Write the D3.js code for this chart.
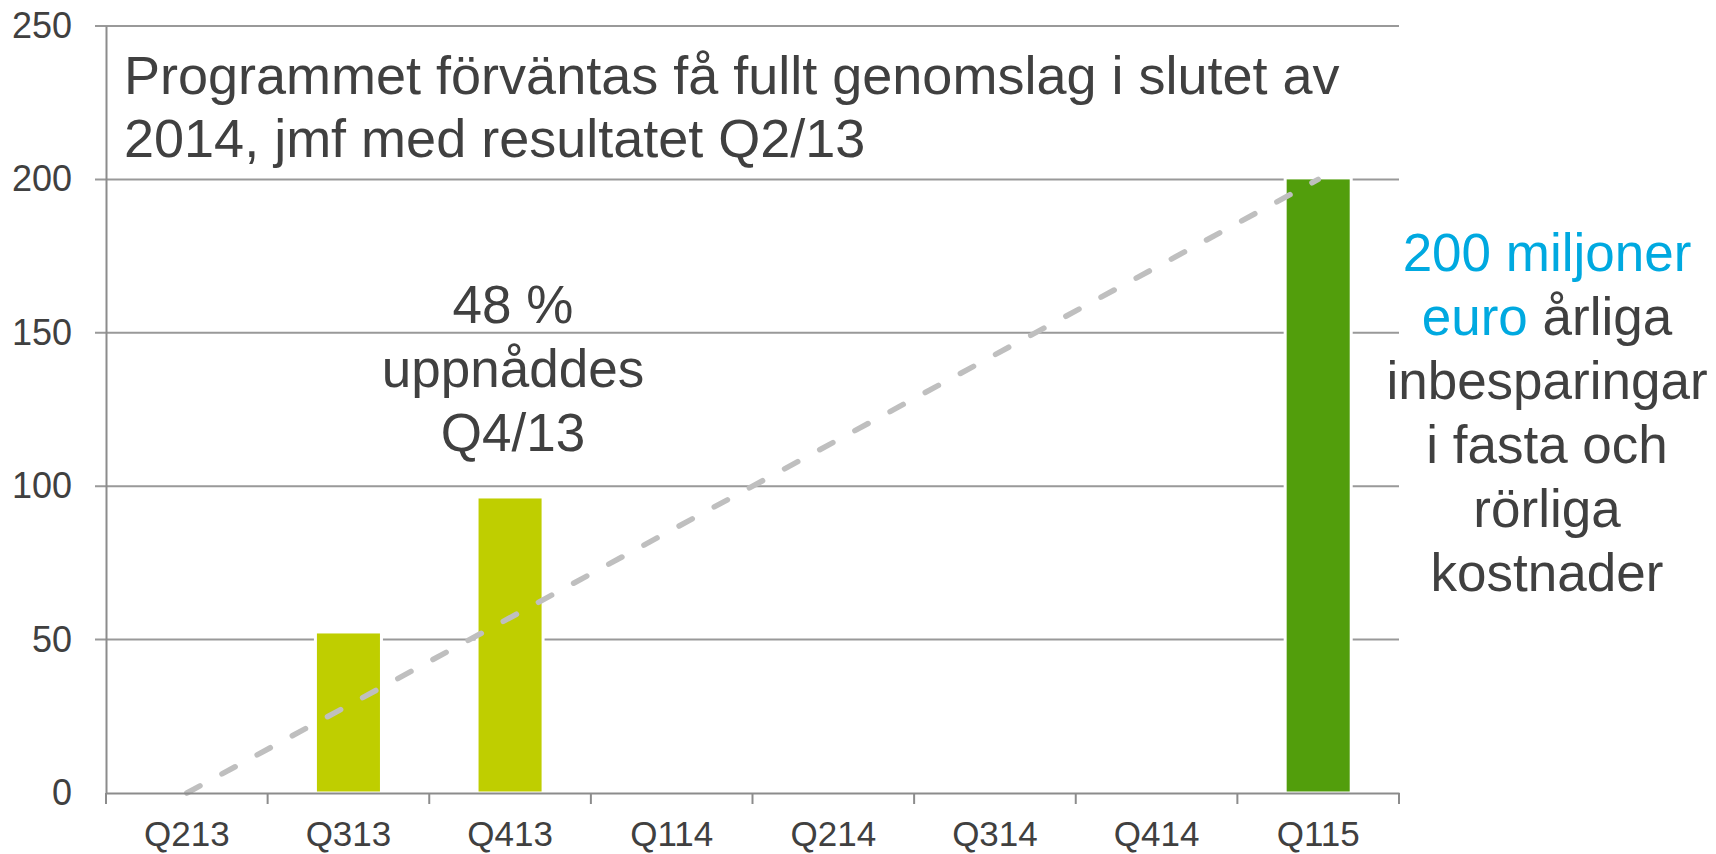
<!DOCTYPE html>
<html>
<head>
<meta charset="utf-8">
<script src="https://cdn.jsdelivr.net/npm/d3@7"></script>
<style>
  body { margin: 0; background: #fff; }
  svg text { font-family: "Liberation Sans", Arial, sans-serif; fill: #404040; }
</style>
</head>
<body>
<div id="chart"></div>
<script>
// Data
const quarters = ["Q213", "Q313", "Q413", "Q114", "Q214", "Q314", "Q414", "Q115"];
const savings = [null, 52, 96, null, null, null, null, 200];
const targetQuarter = "Q115";
const trendQuarters = ["Q213", "Q115"];
const trendValues = [0, 200];
const yTicks = [0, 50, 100, 150, 200, 250];

const titleLines = [
  "Programmet förväntas få fullt genomslag i slutet av",
  "2014, jmf med resultatet Q2/13"
];
const midNoteLines = ["48 %", "uppnåddes", "Q4/13"];
const rightNoteLines = ["inbesparingar", "i fasta och", "rörliga", "kostnader"];

// Dimensions
const width = 1716;
const height = 854;
const margin = { top: 26, right: 317, bottom: 61, left: 106 };

const svg = d3.select("#chart").append("svg")
  .attr("width", width)
  .attr("height", height);

// Scales
const x = d3.scaleBand()
  .domain(quarters)
  .range([margin.left, width - margin.right])
  .padding(0);

const y = d3.scaleLinear()
  .domain([0, 250])
  .range([height - margin.bottom, margin.top]);

const barWidth = x.bandwidth() * 0.39;
const axisColor = "#8c8c8c";

// Gridlines (they also serve as the left tick marks)
svg.append("g")
  .selectAll("line")
  .data(yTicks.filter(d => d > 0))
  .enter()
  .append("line")
    .attr("x1", margin.left - 11)
    .attr("x2", width - margin.right)
    .attr("y1", d => y(d))
    .attr("y2", d => y(d))
    .attr("stroke", "#999")
    .attr("stroke-width", 2);

// Bars (white outline cuts the gridlines around them)
const barData = quarters
  .map((q, i) => ({ quarter: q, value: savings[i] }))
  .filter(d => d.value != null);

svg.append("g")
  .selectAll("rect")
  .data(barData)
  .enter()
  .append("rect")
    .attr("x", d => x(d.quarter) + x.bandwidth() / 2 - barWidth / 2 - 1.5)
    .attr("y", d => y(d.value) - 1.5)
    .attr("width", barWidth + 3)
    .attr("height", d => y(0) - y(d.value) + 1.5)
    .attr("fill", d => d.quarter === targetQuarter ? "#529e0c" : "#bfce00")
    .attr("stroke", "#fff")
    .attr("stroke-width", 3);

// Trend line (dashed)
const trend = trendQuarters.map((q, i) => ({ quarter: q, value: trendValues[i] }));
const line = d3.line()
  .x(d => x(d.quarter) + x.bandwidth() / 2)
  .y(d => y(d.value));

svg.append("path")
  .datum(trend)
  .attr("fill", "none")
  .attr("stroke", "#bfbfbf")
  .attr("stroke-width", 5.5)
  .attr("stroke-linecap", "round")
  .attr("stroke-dasharray", "15,25")
  .attr("d", line);

// Y axis
const yAxis = svg.append("g")
  .attr("transform", `translate(${margin.left}, 0)`)
  .call(d3.axisLeft(y).tickValues(yTicks).tickSize(0).tickPadding(34));

yAxis.select(".domain")
  .attr("stroke", axisColor)
  .attr("stroke-width", 2);

yAxis.selectAll("text")
  .style("font-size", "36px")
  .style("fill", "#404040");

// X axis
const xAxis = svg.append("g")
  .attr("transform", `translate(0, ${height - margin.bottom})`)
  .call(d3.axisBottom(x).tickSize(0).tickSizeOuter(0));

xAxis.select(".domain")
  .attr("stroke", axisColor)
  .attr("stroke-width", 2);

xAxis.selectAll("text")
  .attr("y", 53)
  .attr("dy", 0)
  .style("font-size", "35px")
  .style("fill", "#404040");

// X tick marks at category boundaries
const boundaries = quarters.map(q => x(q)).concat([x.range()[1]]);
svg.append("g")
  .selectAll("line")
  .data(boundaries)
  .enter()
  .append("line")
    .attr("x1", d => d)
    .attr("x2", d => d)
    .attr("y1", y(0))
    .attr("y2", y(0) + 11)
    .attr("stroke", axisColor)
    .attr("stroke-width", 2);

// Title
svg.append("text")
  .style("font-size", "54px")
  .selectAll("tspan")
  .data(titleLines)
  .enter()
  .append("tspan")
    .attr("x", 124)
    .attr("y", (d, i) => 94 + i * 63)
    .text(d => d);

// Note above Q413
svg.append("text")
  .attr("text-anchor", "middle")
  .style("font-size", "53px")
  .selectAll("tspan")
  .data(midNoteLines)
  .enter()
  .append("tspan")
    .attr("x", 513)
    .attr("y", (d, i) => 323 + i * 64)
    .text(d => d);

// Note on the right
const rightNote = svg.append("text")
  .attr("text-anchor", "middle")
  .style("font-size", "53px");

rightNote.append("tspan")
  .attr("x", 1547).attr("y", 271)
  .style("fill", "#00a9e0")
  .text("200 miljoner");

rightNote.append("tspan")
  .attr("x", 1547).attr("y", 335)
  .style("fill", "#00a9e0")
  .text("euro ");
rightNote.append("tspan")
  .text("årliga");

rightNoteLines.forEach((t, i) => {
  rightNote.append("tspan")
    .attr("x", 1547)
    .attr("y", 399 + i * 64)
    .text(t);
});
</script>
</body>
</html>
